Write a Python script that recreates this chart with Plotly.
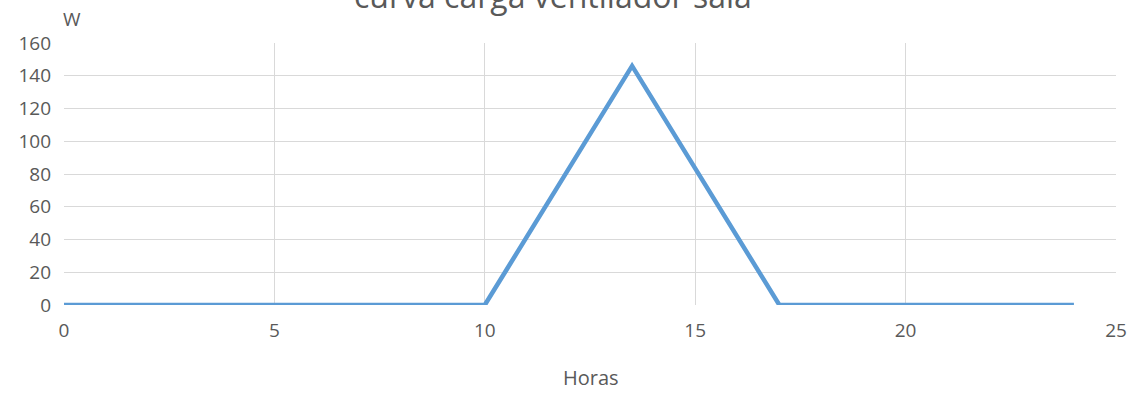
import plotly.graph_objects as go

horas = [0, 10, 13.5, 17, 24]
potencia_w = [0, 0, 146, 0, 0]
x_ticks = [0, 5, 10, 15, 20, 25]
y_ticks = [0, 20, 40, 60, 80, 100, 120, 140, 160]

title_text = "curva carga ventilador sala"
x_title = "Horas"
y_title = "W"

FONT = "Open Sans"
TXT = "#595959"
GRID = "#d9d9d9"

fig = go.Figure()
fig.add_trace(go.Scatter(
    x=horas, y=potencia_w, mode="lines",
    line=dict(color="#5b9bd5", width=4.5),
    hoverinfo="x+y", showlegend=False,
))

fig.update_layout(
    width=1132, height=394,
    margin=dict(l=64, r=16, t=43, b=89),
    paper_bgcolor="white", plot_bgcolor="white",
    font=dict(family=FONT, color=TXT, size=19),
    xaxis=dict(
        range=[0, 25], tickvals=x_ticks, ticktext=[str(v) for v in x_ticks],
        showgrid=True, gridcolor=GRID, gridwidth=1.3,
        zeroline=False, showline=False, ticks="",
        ticklabelstandoff=12, automargin=False,
        tickfont=dict(family=FONT, color=TXT, size=19),
    ),
    yaxis=dict(
        range=[0, 160], tickvals=y_ticks, ticktext=[str(v) for v in y_ticks],
        showgrid=True, gridcolor=GRID, gridwidth=1.3,
        zeroline=False, showline=False, ticks="",
        ticklabelstandoff=12, automargin=False,
        tickfont=dict(family=FONT, color=TXT, size=19),
    ),
    annotations=[
        dict(text=title_text, xref="paper", yref="paper",
             x=0.4648, y=1.09, xanchor="center", yanchor="bottom",
             showarrow=False, font=dict(family=FONT, color=TXT, size=32)),
        dict(text=x_title, xref="paper", yref="paper",
             x=0.5010, y=-0.2786, xanchor="center", yanchor="middle",
             showarrow=False, font=dict(family=FONT, color=TXT, size=20)),
        dict(text=y_title, xref="paper", yref="paper",
             x=0.0076, y=1.09, xanchor="center", yanchor="middle",
             showarrow=False, font=dict(family=FONT, color=TXT, size=19)),
    ],
)

fig.write_html("out.html")
